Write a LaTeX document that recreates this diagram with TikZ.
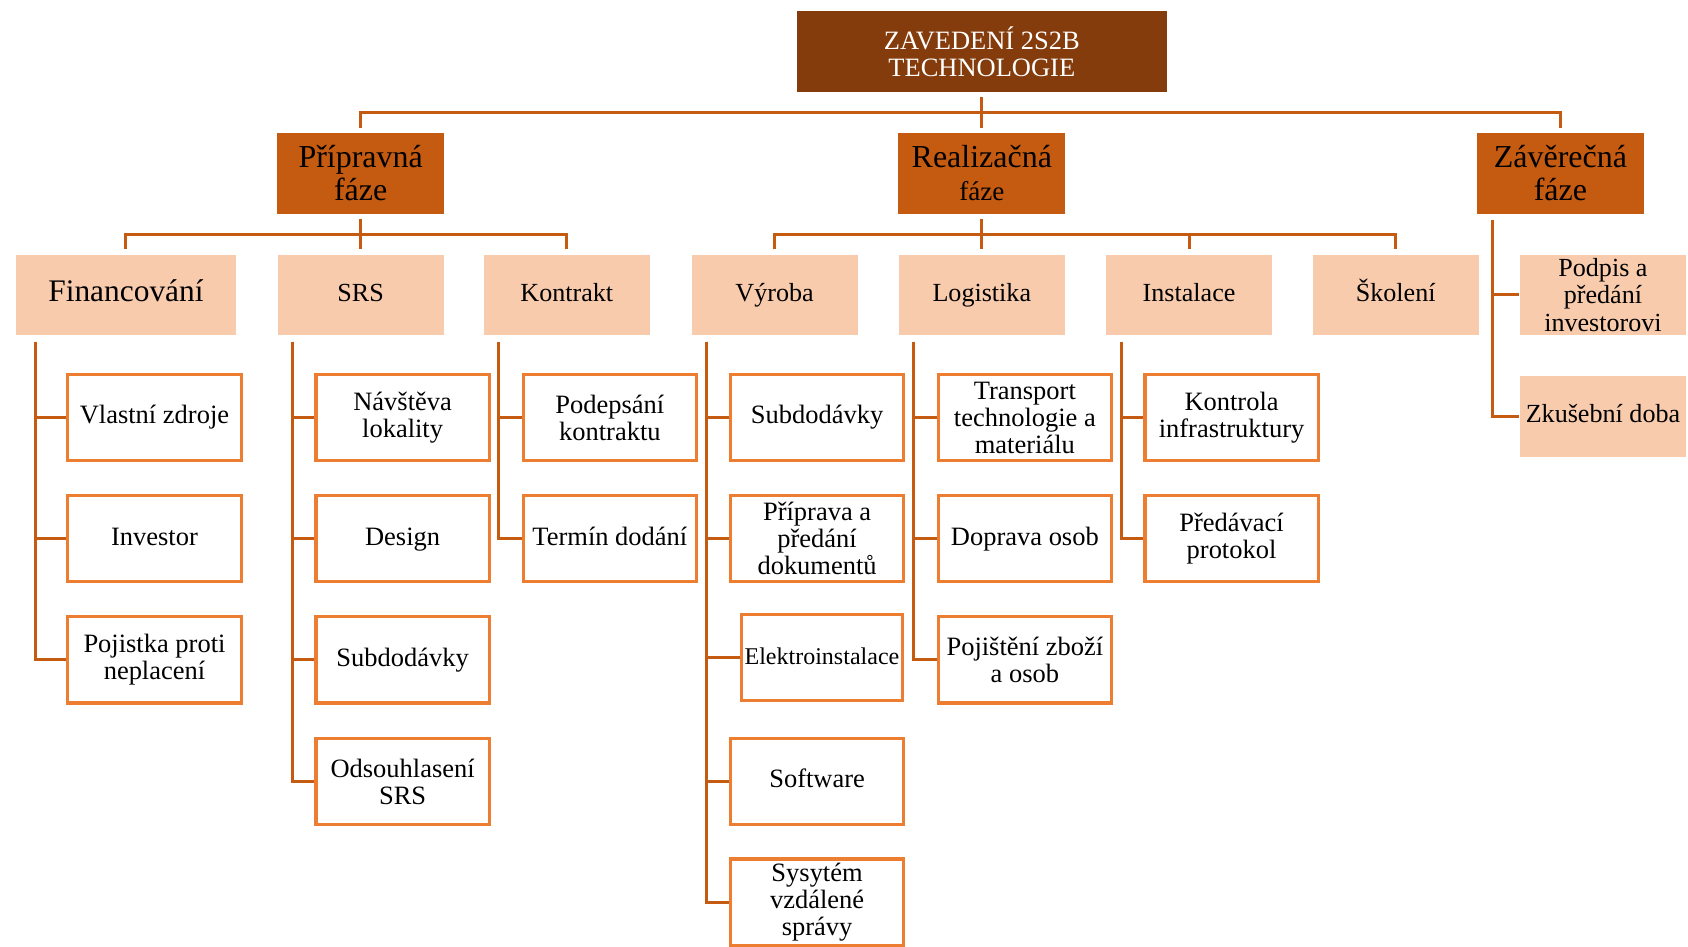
\documentclass[tikz,border=0pt]{standalone}
\usepackage{fontspec}
\setmainfont{Liberation Serif}
\usetikzlibrary{calc}
\definecolor{rootbrown}{HTML}{843C0C}
\definecolor{phaseorange}{HTML}{C55A11}
\definecolor{peach}{HTML}{F8CBAD}
\definecolor{boxorange}{HTML}{ED7D31}

\begin{document}
\begin{tikzpicture}[x=0.02cm, y=-0.02cm,
	oneline/.style={text height=0.88em, text depth=0.22em},
	rootbox/.style={fill=rootbrown, draw=white, line width=0.5pt, text=white, minimum width=6.9cm, minimum height=1.52cm, inner sep=0pt, align=center, font=\fontsize{14}{14.5}\selectfont},
	phasebox/.style={fill=phaseorange, draw=white, line width=0.5pt, minimum width=3.12cm, minimum height=1.52cm, inner sep=0pt, align=center, font=\fontsize{16.9}{17.3}\selectfont},
	groupbox/.style={fill=peach, draw=white, line width=0.5pt, minimum width=3.1cm, minimum height=1.52cm, inner sep=0pt, align=center, font=\fontsize{13.8}{14.6}\selectfont},
	taskbox/.style={fill=white, draw=boxorange, line width=1.7pt, minimum width=3.22cm, minimum height=1.6cm, inner sep=0pt, align=center, font=\fontsize{14}{14.3}\selectfont},
	link/.style={draw=phaseorange, line width=1.6pt}]

				\useasboundingbox (0,0) rectangle (1568,879);

				% Root
				\node[rootbox] (root) at (912,48) {ZAVEDENÍ 2S2B\\TECHNOLOGIE};

				% Phases
				\node[phasebox] (prip) at (335,161) {Přípravná\\fáze};
				\node[phasebox] (real) at (912,161) {Realizačná\\{\fontsize{14.3}{17.3}\selectfont fáze}};
				\node[phasebox] (zav) at (1449.5,161) {Závěrečná\\fáze};

				% Groups
				\node[groupbox, oneline, minimum width=4.12cm, font=\fontsize{16.6}{17}\selectfont] (fin) at (117,274) {Financování};
				\node[groupbox, oneline] (srs) at (335,274) {SRS};
				\node[groupbox, oneline] (kon) at (526.5,274) {Kontrakt};
				\node[groupbox, oneline] (vyr) at (719.5,274) {Výroba};
				\node[groupbox, oneline] (log) at (912,274) {Logistika};
				\node[groupbox, oneline] (ins) at (1104.5,274) {Instalace};
				\node[groupbox, oneline] (sko) at (1296.5,274) {Školení};
				\node[groupbox, minimum width=3.12cm] (pod) at (1489,274) {Podpis a\\předání\\investorovi};
				\node[groupbox, oneline, minimum width=3.12cm] (zku) at (1489,387) {Zkušební doba};

				% Financovani
				\node[taskbox, oneline] (vz) at (143.5,388) {Vlastní zdroje};
				\node[taskbox, oneline] (inv) at (143.5,500.5) {Investor};
				\node[taskbox] (poj) at (143.5,613) {Pojistka proti\\neplacení};

				% SRS
				\node[taskbox] (nav) at (374,388) {Návštěva\\lokality};
				\node[taskbox, oneline] (des) at (374,500.5) {Design};
				\node[taskbox, oneline] (sub1) at (374,613) {Subdodávky};
				\node[taskbox] (ods) at (374,726) {Odsouhlasení\\SRS};

				% Kontrakt
				\node[taskbox] (podk) at (566.5,388) {Podepsání\\kontraktu};
				\node[taskbox, oneline] (ter) at (566.5,500.5) {Termín dodání};

				% Vyroba
				\node[taskbox, oneline] (sub2) at (759,388) {Subdodávky};
				\node[taskbox] (dok) at (759,500.5) {Příprava a\\předání\\dokumentů};
				\node[taskbox, oneline, minimum width=2.98cm, font=\fontsize{12.7}{13}\selectfont] (ele) at (763.5,611) {Elektroinstalace};
				\node[taskbox, oneline] (sof) at (759,726) {Software};
				\node[taskbox] (vzd) at (759,838) {Sysytém\\vzdálené\\správy};

				% Logistika
				\node[taskbox] (tra) at (952,388) {Transport\\technologie a\\materiálu};
				\node[taskbox, oneline] (dop) at (952,500.5) {Doprava osob};
				\node[taskbox] (pojz) at (952,613) {Pojištění zboží\\a osob};

				% Instalace
				\node[taskbox] (kin) at (1144,388) {Kontrola\\infrastruktury};
				\node[taskbox] (pro) at (1144,500.5) {Předávací\\protokol};

				% Root to phases
				\draw[link] ([yshift=-0.08cm]root.south) -- ([yshift=0.08cm]real.north);
				\draw[link] ([yshift=0.08cm]prip.north) -- ++(0,-14) -| ([yshift=0.08cm]zav.north);

				% Phases to groups
				\draw[link] ([yshift=-0.08cm]prip.south) -- ([yshift=0.08cm]srs.north);
				\draw[link] ([yshift=0.08cm]fin.north) -- ++(0,-14) -| ([yshift=0.08cm]kon.north);
				\draw[link] ([yshift=-0.08cm]real.south) -- ([yshift=0.08cm]log.north);
				\draw[link] ([yshift=0.08cm]vyr.north) -- ++(0,-14) -| ([yshift=0.08cm]sko.north);
				\draw[link] ([yshift=0.08cm]ins.north) -- ++(0,-14);
				\coordinate (zav-t) at ($(zav.south west)!0.095!(zav.south east) + (0,5)$);
				\draw[link] (zav-t) |- (pod.west);
				\draw[link] (zav-t) |- (zku.west);

				% Groups to tasks
				\coordinate (fin-t) at ($(fin.south west)!0.095!(fin.south east) + (0,5)$);
				\draw[link] (fin-t) |- (vz.west);
				\draw[link] (fin-t) |- (inv.west);
				\draw[link] (fin-t) |- (poj.west);
				\coordinate (srs-t) at ($(srs.south west)!0.095!(srs.south east) + (0,5)$);
				\draw[link] (srs-t) |- (nav.west);
				\draw[link] (srs-t) |- (des.west);
				\draw[link] (srs-t) |- (sub1.west);
				\draw[link] (srs-t) |- (ods.west);
				\coordinate (kon-t) at ($(kon.south west)!0.095!(kon.south east) + (0,5)$);
				\draw[link] (kon-t) |- (podk.west);
				\draw[link] (kon-t) |- (ter.west);
				\coordinate (vyr-t) at ($(vyr.south west)!0.095!(vyr.south east) + (0,5)$);
				\draw[link] (vyr-t) |- (sub2.west);
				\draw[link] (vyr-t) |- (dok.west);
				\draw[link] (vyr-t) |- (ele.west);
				\draw[link] (vyr-t) |- (sof.west);
				\draw[link] (vyr-t) |- (vzd.west);
				\coordinate (log-t) at ($(log.south west)!0.095!(log.south east) + (0,5)$);
				\draw[link] (log-t) |- (tra.west);
				\draw[link] (log-t) |- (dop.west);
				\draw[link] (log-t) |- (pojz.west);
				\coordinate (ins-t) at ($(ins.south west)!0.095!(ins.south east) + (0,5)$);
				\draw[link] (ins-t) |- (kin.west);
				\draw[link] (ins-t) |- (pro.west);
\end{tikzpicture}
\end{document}
